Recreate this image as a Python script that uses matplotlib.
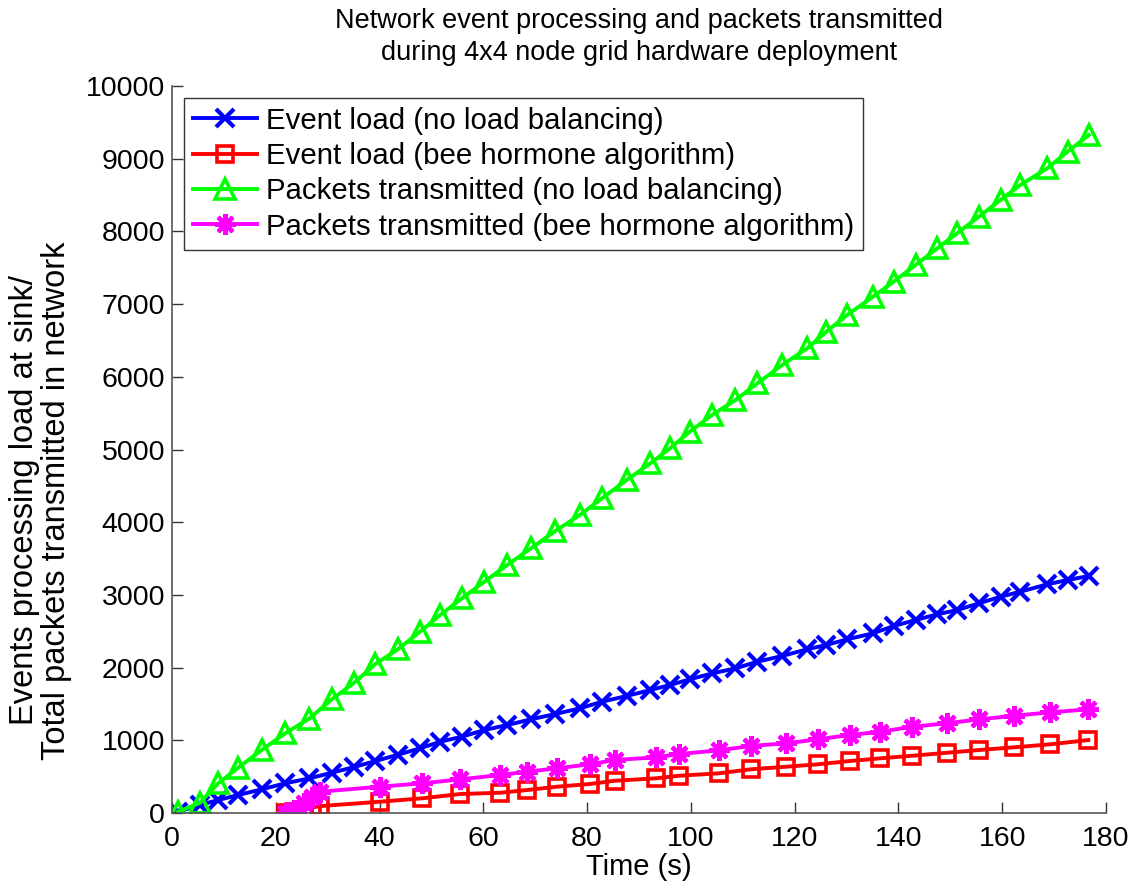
import matplotlib
matplotlib.use("Agg")
import matplotlib.pyplot as plt

plt.rcParams['font.family'] = ['Liberation Sans', 'DejaVu Sans']

# sample times (s) of the no-load-balancing run
t_nolb = [1.2, 5.4, 8.9, 12.8, 17.3, 21.8, 26.5, 30.8, 35.0, 39.2, 43.5, 47.8, 51.7, 55.9,
          60.2, 64.6, 69.2, 73.9, 78.6, 82.9, 87.6, 92.2, 96.0, 99.8, 104.1, 108.6, 112.8,
          117.6, 122.4, 126.1, 130.1, 135.1, 139.1, 143.3, 147.5, 151.3, 155.5, 159.7,
          163.5, 168.7, 172.6, 176.7]
events_nolb = [18, 110, 179, 248, 326, 408, 477, 554, 630, 715, 800, 890, 981, 1050,
               1142, 1210, 1289, 1362, 1440, 1531, 1609, 1692, 1761, 1839, 1920, 1990, 2081,
               2160, 2252, 2311, 2389, 2472, 2572, 2655, 2733, 2792, 2884, 2975,
               3044, 3146, 3205, 3260]
packets_nolb = [18, 140, 408, 625, 867, 1095, 1300, 1564, 1784, 2050, 2250, 2494, 2724, 2953,
                3182, 3411, 3641, 3880, 4099, 4329, 4580, 4810, 5017, 5246, 5475, 5681, 5910,
                6162, 6391, 6620, 6850, 7102, 7309, 7538, 7768, 7974, 8203, 8433,
                8639, 8868, 9097, 9326]

# sample times (s) of the bee hormone run
t_bee = [22.0, 23.6, 25.4, 26.9, 28.5, 40.0, 48.2, 55.5, 63.3, 68.4, 74.2, 80.5, 85.4, 93.2,
         97.8, 105.4, 111.5, 118.4, 124.5, 130.6, 136.5, 142.7, 149.4, 155.6, 162.3, 169.3, 176.6]
events_bee = [0, 10, 45, 75, 95, 155, 202, 261, 279, 316, 362, 399, 444, 477,
              513, 546, 601, 637, 670, 715, 752, 788, 829, 867, 904, 945, 1004]
packets_bee = [0, 40, 133, 224, 293, 362, 408, 463, 523, 568, 615, 670, 729, 766,
               812, 862, 922, 959, 1014, 1073, 1118, 1187, 1234, 1289, 1338, 1385, 1426]

fig = plt.figure(figsize=(11.41, 8.84), dpi=100)
ax = fig.add_axes([0.1507, 0.0803, 0.8186, 0.8224])

lw = 2.8
ax.plot(t_nolb, events_nolb, color=(0, 0, 1), lw=lw, marker='x', ms=13, mew=3,
        label='Event load (no load balancing)')
ax.plot(t_bee, events_bee, color=(1, 0, 0), lw=lw, marker='s', ms=11, mew=2.6,
        mfc='none', label='Event load (bee hormone algorithm)')
ax.plot(t_nolb, packets_nolb, color=(0, 1, 0), lw=lw, marker='^', ms=15, mew=2.6,
        mfc='none', label='Packets transmitted (no load balancing)')
ax.plot(t_bee, packets_bee, color=(1, 0, 1), lw=lw, marker=(8, 2, 0), ms=15, mew=3,
        label='Packets transmitted (bee hormone algorithm)')

ax.set_xlim(0, 180)
ax.set_ylim(0, 10000)
ax.set_xticks(range(0, 181, 20))
ax.set_yticks(range(0, 10001, 1000))
ax.spines['top'].set_visible(False)
ax.spines['right'].set_visible(False)
for s in ('left', 'bottom'):
    ax.spines[s].set_color('#555555')
    ax.spines[s].set_linewidth(1.2)
ax.tick_params(direction='in', length=8, width=1, labelsize=20.5, color='#333333')
ax.tick_params(axis='x', pad=9)
ax.tick_params(axis='y', pad=5)

ax.set_xlabel('Time (s)', fontsize=21, labelpad=1)
ax.set_ylabel('Events processing load at sink/\nTotal packets transmitted in network',
              fontsize=23.5, linespacing=1.05)
ax.yaxis.set_label_coords(-0.107, 0.43)
ax.set_title('Network event processing and packets transmitted\n'
             'during 4x4 node grid hardware deployment', fontsize=19.5, pad=19,
             linespacing=1.3)

leg = ax.legend(loc='upper left', fontsize=21.2, frameon=True, fancybox=False,
                edgecolor='black', handlelength=2.2, handletextpad=0.3,
                borderaxespad=0.4, labelspacing=0.25, borderpad=0.3)
leg.get_frame().set_linewidth(1.0)

fig.savefig('out.png', dpi=100)
